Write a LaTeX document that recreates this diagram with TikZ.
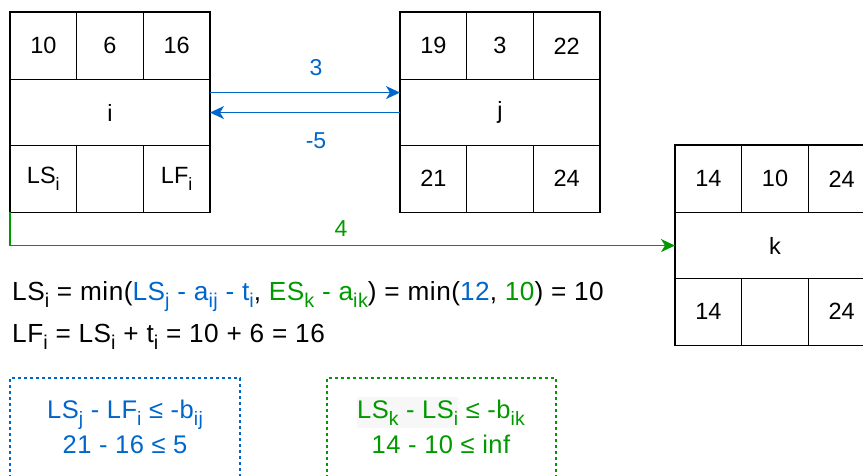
\documentclass[tikz,border=0pt]{standalone}
\usepackage{fontspec}
\setmainfont{Liberation Sans}
\newfontfamily\wf[LetterSpace=2]{Liberation Sans}
\usetikzlibrary{arrows.meta}
\definecolor{cblue}{HTML}{0066CC}
\definecolor{cgreen}{HTML}{009900}
\newcommand\sbs[1]{\raisebox{-0.28em}{\fontsize{0.76\dimexpr\fontdimen6\font\relax}{10}\selectfont #1}}
\newcommand\actbox[9]{%
  % #1 name, #2 x, #3 y(top, positive px), #4-#6 top row, #7 mid, #8 left bottom, #9 right bottom
  \node[cell, minimum width=66.7pt, minimum height=67.7pt, anchor=north west] (#1-es) at (#2,-#3) {#4};
  \node[cell, minimum width=66.6pt, minimum height=67.7pt, anchor=north west] (#1-d) at (#1-es.north east) {#5};
  \node[cell, minimum width=66.7pt, minimum height=67.7pt, anchor=north west] (#1-ef) at (#1-d.north east) {#6};
  \node[cell, minimum width=200pt, minimum height=65.7pt, anchor=north west] (#1-mid) at (#1-es.south west) {#7};
  \node[cell, minimum width=66.7pt, minimum height=66.7pt, anchor=north west] (#1-ls) at (#1-mid.south west) {#8};
  \node[cell, minimum width=66.6pt, minimum height=66.7pt, anchor=north west] (#1-f) at (#1-ls.north east) {};
  \node[cell, minimum width=66.7pt, minimum height=66.7pt, anchor=north west] (#1-lf) at (#1-f.north east) {#9};
}
\begin{document}
\begin{tikzpicture}[x=1pt,y=1pt,
  every node/.style={font=\fontsize{23}{28}\selectfont},
  cell/.style={draw=black, line width=1.2pt, inner sep=0pt, outer sep=0pt, rectangle, font=\fontsize{23.5}{28}\selectfont},
  link/.style={line width=1.4pt, -{Stealth[length=14pt,width=13pt,inset=4pt]}},
  lbl/.style={inner sep=0pt},
  txt/.style={inner sep=0pt, font=\wf\fontsize{25.5}{30}\selectfont},
  ftxt/.style={inner sep=0pt, font=\wf\fontsize{26.2}{30}\selectfont},
  dbox/.style={line width=1.2pt, dash pattern=on 3pt off 3pt}
]
\useasboundingbox (0,0) rectangle (863,-475);
\clip (0,0) rectangle (863,-475);
\actbox{i}{10}{12}{10}{6}{16}{i}{LS\sbs{i}}{LF\sbs{i}}
\actbox{j}{400}{12}{19}{3}{22}{j}{21}{24}
\actbox{k}{675}{145}{14}{10}{24}{k}{14}{24}

\draw[link, cblue] ([yshift=20pt]i-mid.east) -- ([yshift=20pt]j-mid.west);
\draw[link, cblue] (j-mid.east -| j-mid.west) -- (i-mid.east);
\node[lbl, text=cblue] (l3) at (316,-68) {3};
\node[lbl, text=cblue] (l5) at (316,-141) {-5};

\draw[link, cgreen] (i-ls.south west) |- (k-mid.west);
\node[lbl, text=cgreen] (l4) at (341,-229) {4};

\node[ftxt, anchor=base west] (f1) at (12,-300) {LS\sbs{i} = min(\textcolor{cblue}{LS\sbs{j} - a\sbs{ij} - t\sbs{i}}, \textcolor{cgreen}{ES\sbs{k} - a\sbs{ik}}) = min(\textcolor{cblue}{12}, \textcolor{cgreen}{10}) = 10};
\node[ftxt, anchor=base west] (f2) at (12,-342) {LF\sbs{i} = LS\sbs{i} + t\sbs{i} = 10 + 6 = 16};

\draw[dbox, cblue] (10,-490) |- (240,-378) -- (240,-490);
\draw[dbox, cgreen] (327,-490) |- (556,-378) -- (556,-490);
\node[txt, text=cblue, anchor=base] (c1a) at (125,-418) {LS\sbs{j} - LF\sbs{i} ≤ -b\sbs{ij}};
\node[txt, text=cblue, anchor=base] (c1b) at (125,-453) {21 - 16 ≤ 5};
\node[txt, text=cgreen, anchor=base] (c2a) at (441,-418) {\colorbox{black!3}{\hspace{-\fboxsep}LS\sbs{k} - LS\sbs{i}\hspace{-\fboxsep}} ≤ -b\sbs{ik}};
\node[txt, text=cgreen, anchor=base] (c2b) at (441,-453) {14 - 10 ≤ inf};
\end{tikzpicture}
\end{document}
